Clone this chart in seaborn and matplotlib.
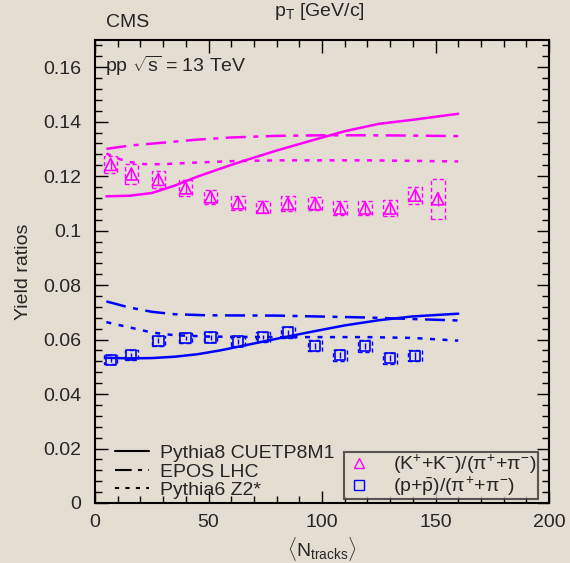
import matplotlib
matplotlib.use('Agg')
import matplotlib.pyplot as plt
from matplotlib.patches import Rectangle
from matplotlib.lines import Line2D
from matplotlib.ticker import MultipleLocator, FuncFormatter
import seaborn as sns
import pandas as pd

# data points
ntrk_k = [6.9, 16, 27.9, 39.9, 50.9, 63, 73.9, 85, 97, 108, 119, 130, 141, 151]
ratio_k = [0.1243, 0.1208, 0.1188, 0.1157, 0.1124, 0.1102, 0.1086, 0.1099, 0.1099, 0.1083, 0.1083, 0.1083, 0.1130, 0.1117]
sys_k = [0.0032, 0.0037, 0.0030, 0.0030, 0.0026, 0.0026, 0.0021, 0.0027, 0.0023, 0.0026, 0.0026, 0.0029, 0.0032, 0.0073]
stat_k = [0.0020, 0.0020, 0.0020, 0.0020, 0.0020, 0.0020, 0.0020, 0.0020, 0.0020, 0.0020, 0.0020, 0.0020, 0.0022, 0.0025]

ntrk_p = [6.9, 16, 27.9, 39.9, 50.9, 63, 73.9, 85, 97, 108, 119, 130, 141]
ratio_p = [0.0526, 0.0543, 0.0596, 0.0606, 0.0608, 0.0593, 0.0609, 0.0626, 0.0577, 0.0543, 0.0577, 0.0532, 0.0540]
sys_p = [0.0017, 0.0017, 0.0018, 0.0018, 0.0018, 0.0018, 0.0018, 0.0020, 0.0020, 0.0020, 0.0022, 0.0020, 0.0020]
stat_p = [0.0008, 0.0008, 0.0008, 0.0008, 0.0008, 0.0008, 0.0008, 0.0010, 0.0010, 0.0012, 0.0012, 0.0012, 0.0014]

# model curves
x_p8_k = [5, 15, 25, 35, 45, 55, 65, 80, 95, 110, 125, 140, 160]
y_p8_k = [0.1126, 0.1128, 0.1138, 0.1165, 0.1198, 0.1227, 0.1255, 0.1294, 0.1330, 0.1365, 0.1392, 0.1407, 0.1429]
x_epos_k = [5, 15, 30, 45, 60, 80, 100, 120, 140, 160]
y_epos_k = [0.1300, 0.1312, 0.1323, 0.1334, 0.1342, 0.1348, 0.1350, 0.1350, 0.1349, 0.1347]
x_p6_k = [5, 10, 15, 22, 30, 45, 60, 80, 120, 160]
y_p6_k = [0.1283, 0.1265, 0.1252, 0.1244, 0.1244, 0.1250, 0.1255, 0.1258, 0.1258, 0.1254]

x_p8_p = [5, 15, 25, 35, 45, 55, 65, 80, 95, 110, 125, 140, 160]
y_p8_p = [0.0533, 0.0531, 0.0532, 0.0537, 0.0546, 0.0560, 0.0577, 0.0603, 0.0628, 0.0652, 0.0671, 0.0685, 0.0695]
x_epos_p = [5, 15, 25, 35, 50, 80, 120, 160]
y_epos_p = [0.0740, 0.0718, 0.0702, 0.0693, 0.0689, 0.0688, 0.0681, 0.0670]
x_p6_p = [5, 15, 25, 35, 50, 80, 120, 140, 160]
y_p6_p = [0.0664, 0.0645, 0.0626, 0.0616, 0.0611, 0.0609, 0.0609, 0.0606, 0.0596]

bg = '#e4ddd1'
mag = '#ff00ff'
blu = '#0000ff'
dashdot = (0, (8, 3, 2, 3))
dotted = (0, (2, 3))

sns.set_theme(style='ticks')
plt.rcParams['font.family'] = ['Liberation Sans', 'DejaVu Sans']
plt.rcParams['mathtext.fontset'] = 'custom'
plt.rcParams['mathtext.rm'] = 'Liberation Sans'
plt.rcParams['mathtext.it'] = 'Liberation Sans'

fig = plt.figure(figsize=(5.7, 5.63), dpi=100, facecolor=bg)
ax = fig.add_axes([0.1667, 0.1066, 0.7965, 0.8224])
ax.set_facecolor(bg)

curves = [
    (x_p8_k, y_p8_k, mag, '-'), (x_epos_k, y_epos_k, mag, dashdot), (x_p6_k, y_p6_k, mag, dotted),
    (x_p8_p, y_p8_p, blu, '-'), (x_epos_p, y_epos_p, blu, dashdot), (x_p6_p, y_p6_p, blu, dotted),
]
for xs, ys, c, ls in curves:
    d = pd.DataFrame({'x': xs, 'y': ys})
    sns.lineplot(data=d, x='x', y='y', color=c, linestyle=ls, linewidth=1.8, ax=ax)

# systematic boxes
for xs, ys, ss, c in [(ntrk_k, ratio_k, sys_k, mag), (ntrk_p, ratio_p, sys_p, blu)]:
    for xv, yv, sv in zip(xs, ys, ss):
        ax.add_patch(Rectangle((xv - 3, yv - sv), 6, 2 * sv, fill=False, edgecolor=c,
                               linestyle=(0, (3, 2)), linewidth=1.0))

ax.errorbar(ntrk_k, ratio_k, yerr=stat_k, fmt='none', ecolor=mag, elinewidth=1.0)
ax.errorbar(ntrk_p, ratio_p, yerr=stat_p, fmt='none', ecolor=blu, elinewidth=1.0)
sns.scatterplot(x=ntrk_k, y=ratio_k, marker='^', s=75, facecolor='none', edgecolor=mag, linewidth=1.2, ax=ax)
sns.scatterplot(x=ntrk_p, y=ratio_p, marker='s', s=55, facecolor='none', edgecolor=blu, linewidth=1.2, ax=ax)

ax.set_xlim(0, 200)
ax.set_ylim(0, 0.17)
ax.xaxis.set_major_locator(MultipleLocator(50))
ax.xaxis.set_minor_locator(MultipleLocator(10))
ax.yaxis.set_major_locator(MultipleLocator(0.02))
ax.yaxis.set_minor_locator(MultipleLocator(0.004))
ax.yaxis.set_major_formatter(FuncFormatter(lambda v, p: '%g' % round(v, 3)))
ax.tick_params(which='both', direction='in', top=True, right=True, labelsize=14, color='black')
ax.tick_params(axis='y', pad=10)
ax.tick_params(axis='x', pad=8)
ax.tick_params(which='major', length=9, width=1)
ax.tick_params(which='minor', length=5, width=1)
for sp in ax.spines.values():
    sp.set_linewidth(1.5)
    sp.set_color('black')

ax.set_xlabel(r'$\langle$N$_{\mathrm{tracks}}\rangle$', fontsize=14, labelpad=3)
ax.set_ylabel('Yield ratios', fontsize=14, labelpad=8)
fig.text(0.186, 0.952, 'CMS', fontsize=14, ha='left', va='baseline')
fig.text(0.56, 0.972, r'p$_\mathrm{T}$ [GeV/c]', fontsize=14, ha='center', va='baseline')
ax.text(0.022, 0.945, r'pp $\sqrt{\mathrm{s}}$ = 13 TeV', transform=ax.transAxes, fontsize=14, va='center')

h1 = [Line2D([], [], color='black', lw=1.5, ls='-'),
      Line2D([], [], color='black', lw=1.5, ls=dashdot),
      Line2D([], [], color='black', lw=1.5, ls=dotted)]
leg1 = ax.legend(h1, ['Pythia8 CUETP8M1', 'EPOS LHC', 'Pythia6 Z2*'], loc='lower left',
                 bbox_to_anchor=(0.045, 0.008), frameon=False, fontsize=14, handlelength=1.7,
                 labelspacing=0.05, borderaxespad=0, borderpad=0, handletextpad=0.6)
ax.add_artist(leg1)
h2 = [Line2D([], [], marker='^', ls='none', mfc='none', mec=mag, ms=7),
      Line2D([], [], marker='s', ls='none', mfc='none', mec=blu, ms=7)]
leg2 = ax.legend(h2, [r'(K$^{+}$+K$^{-}$)/($\pi^{+}$+$\pi^{-}$)', r'(p+$\bar{\mathrm{p}}$)/($\pi^{+}$+$\pi^{-}$)'],
                 loc='lower right', bbox_to_anchor=(0.976, 0.009), frameon=True, fontsize=14,
                 handlelength=1.5, labelspacing=-0.1, borderaxespad=0, fancybox=False,
                 borderpad=0.05, handletextpad=1.0)
leg2.get_frame().set_facecolor(bg)
leg2.get_frame().set_edgecolor('#333333')
leg2.get_frame().set_linewidth(1.5)

fig.savefig('out.png', dpi=100, facecolor=bg)
